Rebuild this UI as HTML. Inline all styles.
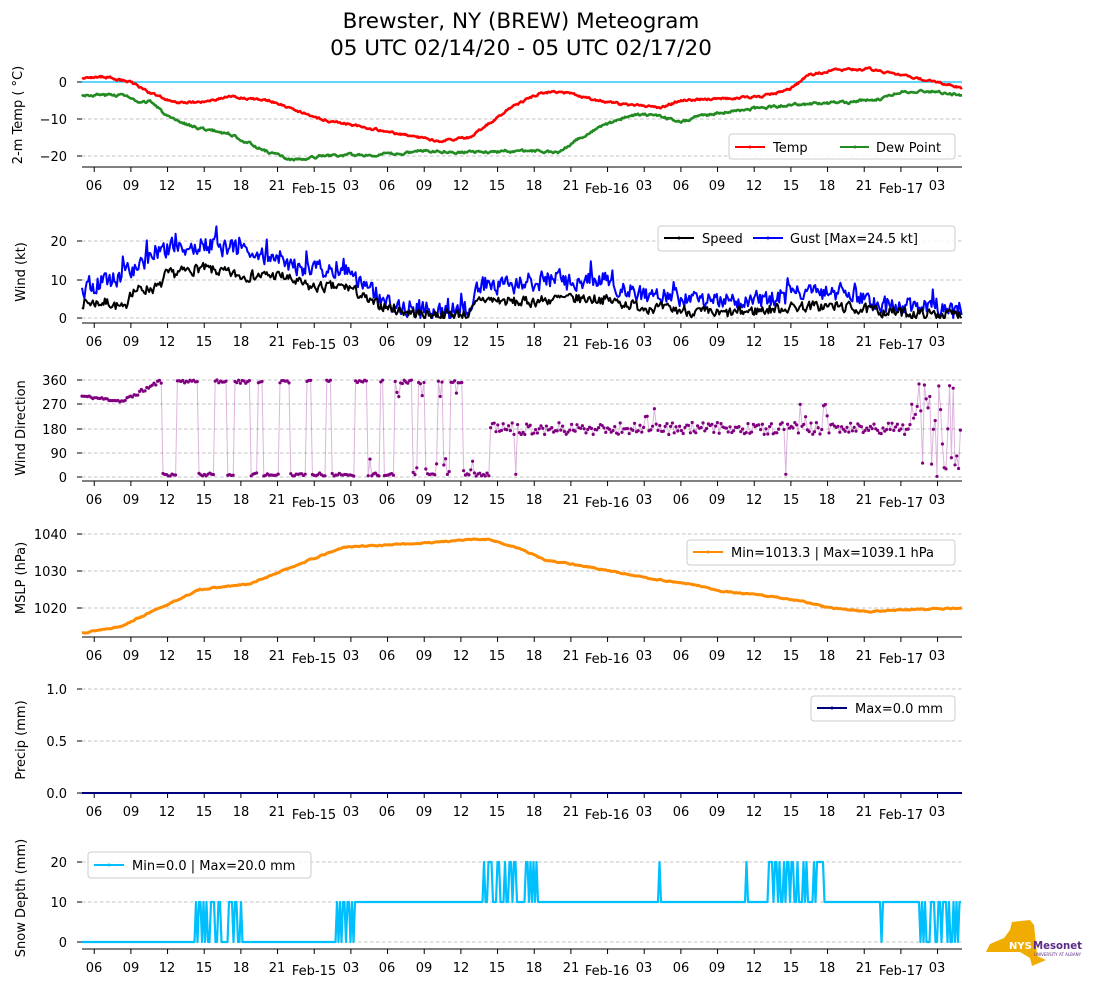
<!DOCTYPE html>
<html><head><meta charset="utf-8"><style>
html,body{margin:0;padding:0;background:#fff;}
svg{display:block;font-family:"DejaVu Sans","Liberation Sans",sans-serif;}
.t{font-size:13px;fill:#000;}
.yl{font-size:13px;fill:#000;}
.g{stroke:#b0b0b0;stroke-width:0.8;stroke-dasharray:3.5,2.5;}
.sp{stroke:#000;stroke-width:1;}
</style></head><body>
<svg id="s" width="1094" height="1001" viewBox="0 0 1094 1001" xmlns="http://www.w3.org/2000/svg">
<text x="521" y="28" text-anchor="middle" style="font-size:21.5px">Brewster, NY (BREW) Meteogram</text>
<text x="521" y="55" text-anchor="middle" style="font-size:21.5px">05 UTC 02/14/20 - 05 UTC 02/17/20</text>

<g id="grid"></g>
<g id="data"></g>

<g class="t" text-anchor="end">
<text x="67" y="87">0</text><text x="67" y="124">−10</text><text x="67" y="161">−20</text>
<text x="67" y="246">20</text><text x="67" y="285">10</text><text x="67" y="323">0</text>
<text x="67" y="385">360</text><text x="67" y="409">270</text><text x="67" y="434">180</text><text x="67" y="458">90</text><text x="67" y="482">0</text>
<text x="67" y="539">1040</text><text x="67" y="576">1030</text><text x="67" y="613">1020</text>
<text x="67" y="694">1.0</text><text x="67" y="746">0.5</text><text x="67" y="798">0.0</text>
<text x="67" y="867">20</text><text x="67" y="907">10</text><text x="67" y="947">0</text>
</g>
<g class="yl" text-anchor="middle">
<text transform="translate(22,115) rotate(-90)">2-m Temp ( °C)</text>
<text transform="translate(25,272) rotate(-90)">Wind (kt)</text>
<text transform="translate(25,428) rotate(-90)">Wind Direction</text>
<text transform="translate(25,578) rotate(-90)">MSLP (hPa)</text>
<text transform="translate(25,740) rotate(-90)">Precip (mm)</text>
<text transform="translate(25,898) rotate(-90)">Snow Depth (mm)</text>
</g>

<g class="t" text-anchor="middle">
<g transform="translate(0,190)">
<text x="94">06</text><text x="131">09</text><text x="167">12</text><text x="204">15</text><text x="241">18</text><text x="277">21</text><text x="314" y="3">Feb-15</text><text x="351">03</text><text x="387">06</text><text x="424">09</text><text x="461">12</text><text x="497">15</text><text x="534">18</text><text x="571">21</text><text x="607" y="3">Feb-16</text><text x="644">03</text><text x="681">06</text><text x="717">09</text><text x="754">12</text><text x="791">15</text><text x="827">18</text><text x="864">21</text><text x="901" y="3">Feb-17</text><text x="937">03</text>
</g>
<g transform="translate(0,346)">
<text x="94">06</text><text x="131">09</text><text x="167">12</text><text x="204">15</text><text x="241">18</text><text x="277">21</text><text x="314" y="3">Feb-15</text><text x="351">03</text><text x="387">06</text><text x="424">09</text><text x="461">12</text><text x="497">15</text><text x="534">18</text><text x="571">21</text><text x="607" y="3">Feb-16</text><text x="644">03</text><text x="681">06</text><text x="717">09</text><text x="754">12</text><text x="791">15</text><text x="827">18</text><text x="864">21</text><text x="901" y="3">Feb-17</text><text x="937">03</text>
</g>
<g transform="translate(0,504)">
<text x="94">06</text><text x="131">09</text><text x="167">12</text><text x="204">15</text><text x="241">18</text><text x="277">21</text><text x="314" y="3">Feb-15</text><text x="351">03</text><text x="387">06</text><text x="424">09</text><text x="461">12</text><text x="497">15</text><text x="534">18</text><text x="571">21</text><text x="607" y="3">Feb-16</text><text x="644">03</text><text x="681">06</text><text x="717">09</text><text x="754">12</text><text x="791">15</text><text x="827">18</text><text x="864">21</text><text x="901" y="3">Feb-17</text><text x="937">03</text>
</g>
<g transform="translate(0,660)">
<text x="94">06</text><text x="131">09</text><text x="167">12</text><text x="204">15</text><text x="241">18</text><text x="277">21</text><text x="314" y="3">Feb-15</text><text x="351">03</text><text x="387">06</text><text x="424">09</text><text x="461">12</text><text x="497">15</text><text x="534">18</text><text x="571">21</text><text x="607" y="3">Feb-16</text><text x="644">03</text><text x="681">06</text><text x="717">09</text><text x="754">12</text><text x="791">15</text><text x="827">18</text><text x="864">21</text><text x="901" y="3">Feb-17</text><text x="937">03</text>
</g>
<g transform="translate(0,816)">
<text x="94">06</text><text x="131">09</text><text x="167">12</text><text x="204">15</text><text x="241">18</text><text x="277">21</text><text x="314" y="3">Feb-15</text><text x="351">03</text><text x="387">06</text><text x="424">09</text><text x="461">12</text><text x="497">15</text><text x="534">18</text><text x="571">21</text><text x="607" y="3">Feb-16</text><text x="644">03</text><text x="681">06</text><text x="717">09</text><text x="754">12</text><text x="791">15</text><text x="827">18</text><text x="864">21</text><text x="901" y="3">Feb-17</text><text x="937">03</text>
</g>
<g transform="translate(0,972)">
<text x="94">06</text><text x="131">09</text><text x="167">12</text><text x="204">15</text><text x="241">18</text><text x="277">21</text><text x="314" y="3">Feb-15</text><text x="351">03</text><text x="387">06</text><text x="424">09</text><text x="461">12</text><text x="497">15</text><text x="534">18</text><text x="571">21</text><text x="607" y="3">Feb-16</text><text x="644">03</text><text x="681">06</text><text x="717">09</text><text x="754">12</text><text x="791">15</text><text x="827">18</text><text x="864">21</text><text x="901" y="3">Feb-17</text><text x="937">03</text>
</g>
</g>

<g font-size="13">
<rect x="729" y="134" width="226" height="25" rx="3" fill="#fff" fill-opacity="0.85" stroke="#ccc"/>
<line x1="735" y1="147" x2="765" y2="147" stroke="#f00" stroke-width="2"/><circle cx="750" cy="147" r="1.5" fill="#f00"/>
<text x="773" y="152">Temp</text>
<line x1="840" y1="147" x2="869" y2="147" stroke="#228b22" stroke-width="2"/><circle cx="855" cy="147" r="1.5" fill="#228b22"/>
<text x="876" y="152">Dew Point</text>

<rect x="658" y="226" width="297" height="25" rx="3" fill="#fff" fill-opacity="0.85" stroke="#ccc"/>
<line x1="664" y1="238" x2="694" y2="238" stroke="#000" stroke-width="2"/><circle cx="679" cy="238" r="1.5" fill="#000"/>
<text x="702" y="243">Speed</text>
<line x1="753" y1="238" x2="783" y2="238" stroke="#00f" stroke-width="2"/><circle cx="768" cy="238" r="1.5" fill="#00f"/>
<text x="790" y="243">Gust [Max=24.5 kt]</text>

<rect x="687" y="540" width="268" height="25" rx="3" fill="#fff" fill-opacity="0.85" stroke="#ccc"/>
<line x1="693" y1="552" x2="723" y2="552" stroke="#ff8c00" stroke-width="2"/><circle cx="708" cy="552" r="1.5" fill="#ff8c00"/>
<text x="731" y="557">Min=1013.3 | Max=1039.1 hPa</text>

<rect x="811" y="696" width="144" height="25" rx="3" fill="#fff" fill-opacity="0.85" stroke="#ccc"/>
<line x1="817" y1="708" x2="847" y2="708" stroke="#000080" stroke-width="2"/><circle cx="832" cy="708" r="1.5" fill="#000080"/>
<text x="855" y="713">Max=0.0 mm</text>

<rect x="88" y="852" width="223" height="26" rx="3" fill="#fff" fill-opacity="0.85" stroke="#ccc"/>
<line x1="94" y1="865" x2="124" y2="865" stroke="#00bfff" stroke-width="2"/><circle cx="109" cy="865" r="1.5" fill="#00bfff"/>
<text x="132" y="870">Min=0.0 | Max=20.0 mm</text>
</g>

<g>
<polygon points="1012,922 1030,920 1034,925 1036,944 1037,956 1046,960 1032,966 1030,958 1020,952 986,952 990,944 1004,938 1010,930" fill="#f0ac00"/>
<text x="1009" y="949" font-size="10" font-weight="bold" fill="#fff">NYS</text>
<text x="1033" y="949" font-size="11" font-weight="bold" fill="#5b2a86" textLength="49" lengthAdjust="spacingAndGlyphs">Mesonet</text>
<text x="1034" y="956" font-size="4" fill="#5b2a86">UNIVERSITY AT ALBANY</text>
</g>
</svg>
<script>
(function(){
var NS="http://www.w3.org/2000/svg";
var grid=document.getElementById("grid"),data=document.getElementById("data");
function el(p,t,a){var e=document.createElementNS(NS,t);for(var k in a)e.setAttribute(k,a[k]);p.appendChild(e);return e;}
function R(s){return function(){s|=0;s=s+0x6D2B79F5|0;var t=Math.imul(s^s>>>15,1|s);t=t+Math.imul(t^t>>>7,61|t)^t;return((t^t>>>14)>>>0)/4294967296;}}
function interp(k,x){for(var i=1;i<k.length;i++){if(x<=k[i][0]){var a=k[i-1],b=k[i];return a[1]+(b[1]-a[1])*(x-a[0])/(b[0]-a[0]);}}return k[k.length-1][1];}
var X0=82,X1=962;
var panels=[[167,[119,156],[82,119,156]],[323,[241,280,318],[241,280,318]],[481,[380,404,429,453,477],[380,404,429,453,477]],[637,[534,571,608],[534,571,608]],[793,[689,741,793],[689,741,793]],[949,[862,902,942],[862,902,942]]];
panels.forEach(function(p){
 p[1].forEach(function(y){el(grid,"line",{x1:X0,x2:X1,y1:y,y2:y,"class":"g"});});
 p[2].forEach(function(y){el(grid,"line",{x1:77,x2:82,y1:y,y2:y,"class":"sp"});});
 el(grid,"line",{x1:X0,x2:X1,y1:p[0],y2:p[0],"class":"sp"});
 for(var h=1;h<=70;h+=3){var x=X0+h*880/72;el(grid,"line",{x1:x,x2:x,y1:p[0],y2:p[0]+5,"class":"sp"});}
});
el(grid,"line",{x1:X0,x2:X1,y1:82,y2:82,stroke:"#00bfff","stroke-width":1.3});
function gen(k,amp,seed,step,sm,spike){var r=R(seed),o=[],n=0;for(var x=X0;x<=X1;x+=step){n=n*sm+(r()-0.5)*2*amp;var v=interp(k,x)+n;if(spike&&r()<0.06)v+=r()*spike;o.push([x,v]);}return o;}
function line(pts,fy,col,w){el(data,"polyline",{points:pts.map(function(p){return p[0].toFixed(1)+","+fy(p[1]).toFixed(1);}).join(" "),fill:"none",stroke:col,"stroke-width":w,"stroke-linejoin":"round"});}
var fT=function(v){return 82-3.7*v;};
var tk=[[82,1],[105,1.5],[130,0],[150,-3],[175,-5.5],[200,-5.5],[230,-4],[270,-5],[300,-8],[320,-10],[360,-12],[400,-14],[440,-16],[470,-15],[490,-11],[510,-7],[540,-3],[560,-2.5],[590,-4.5],[620,-6],[650,-6.5],[660,-7],[680,-5],[720,-4.5],[760,-4],[790,-2],[810,2],[830,3],[870,3.5],[900,1.8],[930,0.5],[962,-1.5]];
var dk=[[82,-3.5],[125,-3.5],[140,-6],[150,-5],[170,-10],[200,-12.5],[230,-14],[260,-18],[290,-21],[305,-21],[320,-20],[400,-19.5],[420,-18.5],[480,-19],[520,-18.5],[560,-19],[580,-15],[610,-11],[630,-9],[660,-9],[680,-11],[700,-9],[760,-7],[800,-6],[850,-5.5],[880,-4.5],[900,-2.5],[930,-2.5],[962,-3.5]];
line(gen(dk,0.3,3,1,0.6),fT,"#228b22",2.6);
line(gen(tk,0.25,2,1,0.6),fT,"#f00",2.6);
var fW=function(v){return 318-3.85*Math.max(0,v);};
var sk=[[82,4],[110,4],[125,2],[130,7],[160,8],[165,11],[200,13],[240,11],[280,11],[300,9],[310,8],[350,8],[370,4],[400,2],[420,1],[470,1],[480,5],[520,4],[560,5],[600,5],[640,3],[680,2],[720,1],[760,2],[800,3],[840,3],[870,2],[920,1],[962,1]];
var gk=[[82,7],[100,9],[130,12],[160,18],[200,19],[240,18],[270,16],[300,13],[350,12],[370,7],[400,3],[440,2],[470,2],[480,9],[510,8],[520,9],[560,10],[600,10],[640,6],[680,5],[720,4],[760,5],[800,6],[840,7],[870,4],[900,3],[962,2]];
line(gen(gk,2.2,5,1.2,0.3,4),fW,"#00f",2);
line(gen(sk,1.3,7,1.2,0.3),fW,"#000",2);
var fD=function(v){return 477-v*97/360;};
var r=R(11),dp=[],state=1;
for(var x=X0;x<=X1;x+=1.8){var v;
 if(x<125)v=300-20*(x-82)/43+(r()-0.5)*10;
 else if(x<160)v=285+70*(x-125)/35+(r()-0.5)*15;
 else if(x<490){if(r()<(x<380?0.12:0.18))state=1-state;
  if(state)v=348+r()*12-(x>380&&r()<0.2?r()*60:0);else v=3+r()*12+(x>370&&r()<0.25?r()*60:0);}
 else if(x<910){v=180+(r()-0.5)*45;if((x>640&&x<660||x>800&&x<835)&&r()<0.4)v=220+r()*60;if(r()<0.006)v=10;}
 else v=r()<0.6?200+r()*160:r()*200;
 v=Math.min(360,Math.max(0,v));dp.push([x,v]);}
line(dp,fD,"rgba(170,70,170,0.4)",1);
dp.forEach(function(p){el(data,"circle",{cx:p[0],cy:fD(p[1]),r:1.6,fill:"#800080"});});
var fP=function(v){return 608-3.7*(v-1020);};
var pk=[[82,1013.3],[120,1015],[160,1020],[200,1025],[250,1026.5],[300,1032],[345,1036.5],[420,1037.5],[470,1038.5],[490,1038.5],[520,1036],[545,1033],[570,1032],[620,1029.5],[650,1028],[700,1026],[720,1024.5],[760,1023.5],[800,1022],[830,1020],[870,1019],[900,1019.5],[962,1020]];
line(gen(pk,0.12,13,1,0.6),fP,"#ff8c00",3);
el(data,"line",{x1:X0,x2:X1,y1:793,y2:793,stroke:"#000080","stroke-width":2});
var fS=function(v){return 942-4*v;};
var rs=R(17),sp=[];
for(var x=X0;x<=X1;x+=1.5){var v=x<345?0:10;
 if(x>=194&&x<=242)v=rs()<0.5?10:0;
 if(x>=337&&x<=354)v=rs()<0.5?10:0;
 if(x>=483&&x<=538)v=rs()<0.55?20:10;
 if(Math.abs(x-659)<1)v=20;if(Math.abs(x-746)<1)v=20;
 if(x>=768&&x<=824)v=rs()<0.5?20:10;
 if(Math.abs(x-882)<1)v=0;
 if(x>=920)v=rs()<0.5?0:10;
 sp.push([x,v]);}
line(sp,fS,"#00bfff",2.2);
})();
</script>
</body></html>
